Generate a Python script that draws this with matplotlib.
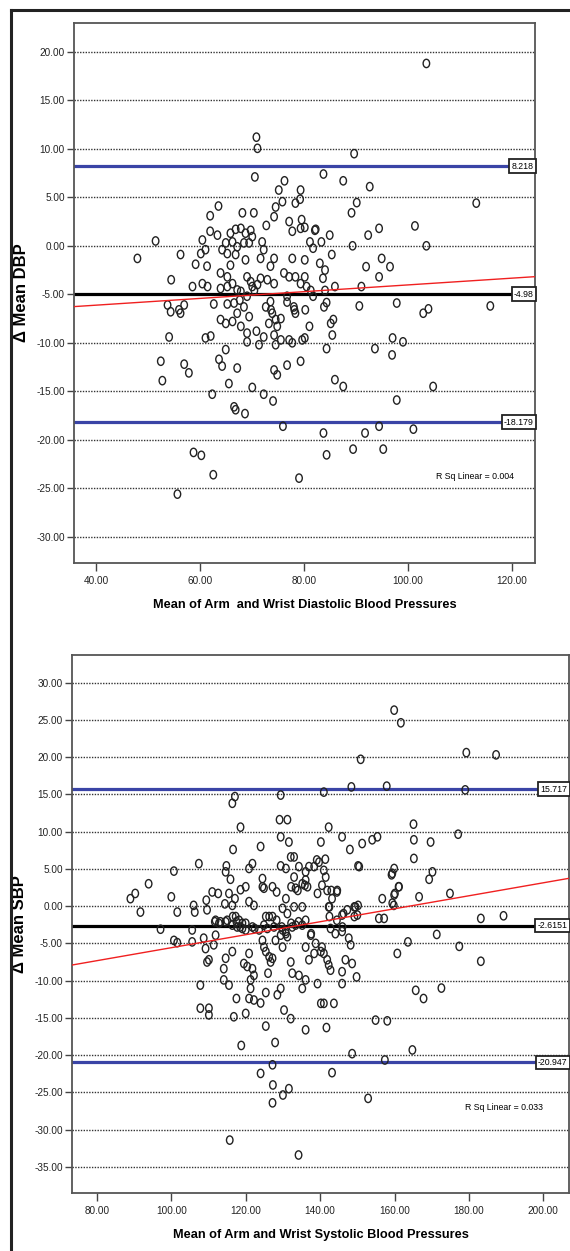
import numpy as np
import matplotlib
matplotlib.use("Agg")
import matplotlib.pyplot as plt
from matplotlib.path import Path
from matplotlib.lines import Line2D
from matplotlib import font_manager

names = {f.name for f in font_manager.fontManager.ttflist}
narrow = "Liberation Sans Narrow" if "Liberation Sans Narrow" in names else "Liberation Sans"
plt.rcParams["font.family"] = [narrow, "DejaVu Sans"]
plt.rcParams["axes.unicode_minus"] = False

# ---- data: diastolic (top panel) ----
dbp_points = [
    (103.5, 18.8), (70.8, 11.2), (71.0, 10.05), (89.6, 9.5), (70.5, 7.1), (83.7, 7.4),
    (76.2, 6.7), (87.5, 6.7), (92.6, 6.1), (75.1, 5.75), (79.3, 5.75), (75.8, 4.55),
    (79.2, 4.8), (90.1, 4.45), (113.1, 4.4), (63.5, 4.1), (74.5, 4.0), (78.3, 4.4),
    (89.1, 3.4), (61.9, 3.1), (68.1, 3.4), (70.3, 3.4), (74.2, 3.0), (72.7, 2.1),
    (77.1, 2.5), (79.5, 2.7), (82.2, 1.7), (77.7, 1.5), (79.3, 1.8), (80.1, 1.9),
    (94.4, 1.8), (101.3, 2.05), (61.9, 1.5), (63.3, 1.1), (60.4, 0.6), (65.8, 1.3),
    (66.8, 1.7), (67.8, 1.8), (68.7, 1.3), (69.7, 1.6), (70.0, 0.95), (69.4, 0.3),
    (64.9, 0.3), (66.2, 0.4), (67.1, -0.1), (68.4, 0.3), (71.9, 0.4), (72.2, -0.4),
    (64.2, -0.4), (65.2, -0.8), (51.4, 0.5), (47.9, -1.3), (56.2, -0.9), (59.1, -1.9),
    (60.1, -0.8), (61.0, -0.4), (61.3, -2.1), (74.2, -1.3), (73.5, -2.1), (71.6, -1.3),
    (77.7, -1.3), (66.8, -0.9), (65.8, -2.0), (68.7, -1.45), (54.4, -3.5), (63.9, -2.8),
    (65.2, -3.2), (66.2, -3.9), (69.0, -3.2), (71.6, -3.35), (72.9, -3.5), (74.2, -3.9),
    (76.1, -2.8), (77.1, -3.2), (78.3, -3.2), (79.3, -3.9), (58.5, -4.2), (60.4, -3.9),
    (61.4, -4.2), (63.9, -4.4), (65.2, -4.2), (67.1, -4.55), (67.8, -4.7), (70.0, -4.2),
    (71.0, -4.0), (84.9, 1.1), (83.3, 0.4), (81.7, -0.25), (81.1, 0.4), (92.3, 1.1),
    (89.3, 0.0), (103.5, 0.0), (85.3, -0.9), (80.1, -1.45), (83.0, -1.8), (84.0, -2.5),
    (83.6, -3.35), (91.9, -2.15), (94.9, -1.3), (96.5, -2.15), (94.4, -3.2), (80.1, -3.2),
    (80.45, -4.2), (85.9, -4.2), (91.0, -4.2), (82.05, 1.6),
    (67.6, -5.6), (69.0, -5.2), (69.7, -3.7), (70.4, -4.6), (73.6, -6.6), (76.7, -5.8),
    (78.1, -6.6), (80.2, -6.6), (81.25, -4.6), (84.0, -4.6),
    (53.7, -6.1), (54.3, -6.8), (55.9, -6.6), (56.9, -6.1), (56.2, -6.95), (54.0, -9.4),
    (52.4, -11.9), (52.7, -13.9), (56.9, -12.2), (57.8, -13.1), (61.0, -9.5), (62.0, -9.3),
    (62.6, -6.0), (65.2, -6.0), (66.5, -5.9), (67.1, -6.95), (68.4, -6.3), (69.4, -7.3),
    (63.9, -7.6), (64.9, -8.0), (66.2, -7.8), (67.8, -8.3), (69.0, -9.0), (69.0, -9.9),
    (64.9, -10.7), (63.6, -11.7), (64.2, -12.4), (67.1, -12.6), (65.5, -14.2), (70.0, -14.6),
    (62.3, -15.3), (66.5, -16.6), (66.8, -16.9), (68.6, -17.3), (72.2, -15.3), (74.0, -16.0),
    (70.8, -8.8), (72.2, -9.4), (71.3, -10.2), (72.6, -6.3), (73.5, -5.75), (73.85, -6.95),
    (74.5, -7.6), (74.8, -8.3), (75.5, -7.5), (73.2, -8.0), (74.2, -9.2), (74.5, -10.2),
    (75.5, -9.7), (77.1, -9.7), (77.7, -10.0), (76.7, -5.2), (78.0, -6.3), (78.3, -6.95),
    (79.6, -9.7), (79.3, -11.9), (76.7, -12.3), (74.2, -12.8), (74.8, -13.3), (75.9, -18.6),
    (58.7, -21.3), (60.2, -21.6), (62.5, -23.6), (79.0, -23.95), (55.6, -25.6),
    (81.7, -5.2), (83.8, -6.3), (84.3, -5.85), (90.6, -6.2), (97.8, -5.9), (102.9, -6.95),
    (103.9, -6.5), (115.8, -6.2), (81.0, -8.3), (80.1, -9.5), (85.6, -7.6), (85.1, -8.0),
    (85.4, -9.2), (84.3, -10.6), (93.6, -10.6), (97.0, -9.5), (99.0, -9.9), (96.9, -11.25),
    (85.9, -13.8), (87.5, -14.5), (97.8, -15.9), (104.8, -14.5), (83.7, -19.3), (91.7, -19.3),
    (94.4, -18.6), (101.0, -18.9), (84.3, -21.55), (89.4, -20.96), (95.2, -20.96),
]
dbp_lines = [8.218, -4.98, -18.179]
dbp_line_labels = ["8.218", "-4.98", "-18.179"]
dbp_fit = (-7.51, 0.0348)  # intercept, slope
dbp_xticks = [40, 60, 80, 100, 120]
dbp_yticks = [-30, -25, -20, -15, -10, -5, 0, 5, 10, 15, 20]

# ---- data: systolic (bottom panel) ----
sbp_points = [
    (117.1, 14.7), (116.4, 13.8), (129.4, 14.9), (118.6, 10.6), (129.1, 11.6), (131.2, 11.6),
    (129.4, 9.3), (131.6, 8.6), (116.6, 7.6), (124.0, 8.0), (140.2, 8.6), (107.4, 5.7),
    (100.7, 4.7), (93.9, 3.0), (121.8, 5.7), (120.9, 5.05), (114.8, 5.4), (114.6, 4.6),
    (115.9, 3.6), (124.5, 3.7), (127.2, 2.6), (124.5, 2.6), (129.4, 5.4), (130.8, 5.05),
    (132.1, 6.6), (133.0, 6.6), (134.3, 5.3), (136.1, 4.6), (137.0, 5.3), (138.4, 5.3),
    (139.7, 5.9), (136.1, 3.5), (136.6, 2.6), (133.4, 2.4), (135.2, 3.0), (133.0, 3.9),
    (139.3, 1.7), (89.0, 1.0), (90.3, 1.7), (91.7, -0.8), (100.0, 1.25), (101.6, -0.8),
    (106.0, 0.1), (106.3, -0.8), (109.4, 0.8), (109.6, -0.5), (111.0, 1.9), (112.6, 1.7),
    (115.5, 1.7), (117.1, 1.0), (116.4, 0.1), (118.6, 2.2), (120.0, 2.6), (120.9, 0.6),
    (122.2, 0.1), (114.4, 0.3), (125.4, -1.4), (127.2, -1.4), (130.8, 1.0), (129.9, -0.3),
    (131.2, -1.0), (133.0, -0.1), (135.2, -0.1), (136.1, -1.9), (111.9, -1.9), (113.2, -2.1),
    (115.0, -1.9), (117.3, -1.4), (118.2, -1.9), (119.1, -2.3),
    (159.9, 26.3), (161.7, 24.6), (150.9, 19.7), (179.3, 20.6), (187.3, 20.3), (141.0, 15.3),
    (148.4, 16.0), (157.9, 16.1), (179.0, 15.6), (142.3, 10.6), (145.9, 9.3), (148.0, 7.6),
    (151.3, 8.4), (154.0, 8.9), (155.4, 9.3), (165.1, 11.0), (165.2, 8.9), (169.7, 8.6),
    (177.1, 9.65), (165.2, 6.4), (141.4, 6.3), (141.0, 4.8), (140.5, 2.8), (141.9, 2.1),
    (144.6, 2.1), (143.2, 1.0), (150.2, 5.4), (159.9, 5.05), (159.4, 4.4), (170.2, 4.6),
    (169.3, 3.6), (161.2, 2.6), (159.9, 1.5), (159.4, 0.4), (156.7, 1.0), (166.6, 1.25),
    (174.9, 1.7), (142.3, -0.1), (147.3, -0.5), (149.5, -0.1), (150.0, -1.2), (145.9, -1.2),
    (155.8, -1.65), (157.2, -1.65), (183.2, -1.65), (189.3, -1.3),
    (124.9, 2.4), (128.3, 1.9), (132.2, 2.6), (134.0, 2.1), (135.9, 2.8), (139.1, 6.2),
    (141.5, 3.9), (143.0, 2.1), (144.5, 1.9), (150.5, 5.3), (146.3, -1.0), (149.2, -0.1),
    (150.2, 0.1), (149.2, -1.4), (142.5, -0.1), (142.5, -1.4), (144.5, -1.9), (146.0, -2.8),
    (159.2, 4.2), (160.1, 1.7), (161.1, 2.6), (159.8, 0.1),
    (111.7, -2.1), (116.5, -1.4), (117.5, -2.1), (118.5, -2.8), (120.0, -3.2), (122.4, -3.0),
    (124.9, -2.55), (126.3, -1.4), (128.3, -1.9), (129.7, -2.8), (130.7, -3.4), (131.2, -4.1),
    (132.2, -2.3), (134.2, -2.1), (135.2, -2.55), (137.6, -3.7),
    (97.1, -3.1), (100.7, -4.6), (101.6, -4.9), (105.6, -3.2), (105.6, -4.8), (108.7, -4.3),
    (109.2, -5.7), (111.4, -5.2), (110.1, -7.2), (109.6, -7.5), (107.8, -10.6), (107.8, -13.7),
    (110.1, -13.7), (110.1, -14.6), (114.1, -8.4), (114.6, -7.0), (114.1, -9.9), (115.5, -10.6),
    (116.4, -6.1), (111.9, -3.9), (117.5, -12.4), (116.8, -14.85), (120.0, -14.4), (118.8, -18.7),
    (119.5, -7.7), (120.4, -8.1), (120.9, -6.35), (121.8, -8.4), (122.2, -9.3), (121.3, -9.9),
    (121.3, -11.05), (120.9, -12.4), (122.2, -12.6), (124.0, -13.0), (125.4, -11.6), (125.4, -16.1),
    (124.5, -4.6), (124.9, -5.5), (125.4, -6.1), (126.3, -6.8), (127.2, -7.0), (126.7, -7.5),
    (126.0, -9.0), (128.0, -4.6), (129.4, -3.9), (129.9, -5.5), (128.5, -11.9), (129.4, -11.05),
    (130.3, -13.95), (132.1, -15.1), (127.9, -18.3), (127.2, -21.3), (124.0, -22.45), (127.3, -24.0),
    (130.0, -25.35), (131.6, -24.5), (127.2, -26.4), (115.7, -31.4), (134.2, -33.4), (132.1, -7.5),
    (132.5, -9.0), (134.3, -9.3), (136.1, -9.9), (135.2, -11.05), (136.1, -16.6), (139.3, -10.4),
    (140.2, -13.05), (136.1, -5.5), (137.0, -7.2), (137.5, -3.9), (138.8, -5.0), (140.2, -6.1),
    (138.4, -6.35), (129.9, -3.2), (130.8, -3.7), (132.5, -2.8), (133.4, -2.55), (112.8, -2.3),
    (114.6, -2.1), (116.4, -2.55), (117.7, -2.8), (119.1, -3.0), (120.0, -2.3), (121.8, -2.8),
    (123.6, -3.2), (125.8, -3.0), (127.6, -2.8),
    (142.8, -3.0), (144.1, -3.7), (145.9, -3.4), (147.7, -4.3), (148.2, -5.2), (140.5, -5.5),
    (141.0, -6.35), (141.9, -7.2), (142.3, -7.9), (142.8, -8.6), (146.8, -7.2), (148.6, -7.7),
    (145.9, -8.8), (145.9, -10.4), (149.8, -9.5), (141.0, -13.05), (143.7, -13.05), (141.7, -16.3),
    (154.9, -15.3), (158.05, -15.4), (148.6, -19.8), (157.4, -20.65), (164.8, -19.3), (143.2, -22.35),
    (152.9, -25.8), (160.75, -6.35), (163.6, -4.8), (171.35, -3.8), (177.4, -5.4), (183.2, -7.4),
    (165.7, -11.3), (167.8, -12.4), (172.6, -11.0),
]
sbp_lines = [15.717, -2.6151, -20.947]
sbp_line_labels = ["15.717", "-2.6151", "-20.947"]
sbp_fit = (-14.29, 0.0871)
sbp_xticks = [80, 100, 120, 140, 160, 180, 200]
sbp_yticks = [-35, -30, -25, -20, -15, -10, -5, 0, 5, 10, 15, 20, 25, 30]

W, H = 570, 1251
fig = plt.figure(figsize=(W / 100, H / 100), dpi=100)
fig.patch.set_facecolor("white")

circ = Path.unit_circle()
oval = Path(circ.vertices * [0.78, 1.0], circ.codes)


def panel(ax, points, lines, labels, fit, xlim, ylim, xticks, yticks,
          xlabel, ylabel, ylab_x, rsq, rsq_xy):
    x, y = np.array(points).T
    ax.set_xlim(*xlim)
    ax.set_ylim(*ylim)
    ax.set_xticks(xticks)
    ax.set_yticks(yticks)
    ax.set_xticklabels([f"{v:.2f}" for v in xticks], fontsize=7.2, color="#222")
    ax.set_yticklabels([f"{v:.2f}" for v in yticks], fontsize=7.2, color="#222")
    ax.tick_params(axis="y", length=5, width=1, pad=1.5, color="#444")
    ax.tick_params(axis="x", length=6, width=1, pad=3, color="#444")
    ax.yaxis.grid(True, linestyle=(0, (1, 1)), color="#333", lw=1.0, zorder=0)
    ax.set_axisbelow(True)
    for s in ax.spines.values():
        s.set_color("#555")
        s.set_linewidth(1.3)
    ax.scatter(x, y, s=36, marker=oval, facecolors="none", edgecolors="#222",
               linewidths=1.0, zorder=3)
    colors = ["#3a44a6", "black", "#3a44a6"]
    for v, c, lab in zip(lines, colors, labels):
        ax.axhline(v, color=c, lw=2.3, zorder=2)
        ax.text(0.997, v, lab, transform=ax.get_yaxis_transform(), ha="right", va="center",
                fontsize=6.3, zorder=5,
                bbox=dict(boxstyle="square,pad=0.25", fc="white", ec="#222", lw=1.3))
    xs = np.array(xlim)
    ax.plot(xs, fit[0] + fit[1] * xs, color="#f02020", lw=1.0, zorder=4)
    ax.text(rsq_xy[0], rsq_xy[1], rsq, fontsize=6.3, ha="center", va="center")
    ax.set_xlabel(xlabel, fontsize=9.2, fontweight="bold", labelpad=10)
    ax.set_ylabel(ylabel, fontsize=12, fontweight="bold")
    ax.yaxis.set_label_coords(ylab_x, 0.5)


ax1 = fig.add_axes([74 / W, 1 - 563 / H, (535 - 74) / W, (563 - 22.7) / H])
panel(ax1, dbp_points, dbp_lines, dbp_line_labels, dbp_fit, (35.7, 124.4), (-32.7, 23.0),
      dbp_xticks, dbp_yticks, "Mean of Arm  and Wrist Diastolic Blood Pressures",
      "\u0394 Mean DBP", -0.098, "R Sq Linear = 0.004", (112.8, -23.8))

ax2 = fig.add_axes([72 / W, 1 - 1193 / H, (569 - 72) / W, (1193 - 655) / H])
panel(ax2, sbp_points, sbp_lines, sbp_line_labels, sbp_fit, (73.3, 206.9), (-38.5, 33.7),
      sbp_xticks, sbp_yticks, "Mean of Arm and Wrist Systolic Blood Pressures",
      "\u0394 Mean SBP", -0.09, "R Sq Linear = 0.033", (189.4, -27.0))

# outer frame (left and top edges visible)
fig.add_artist(Line2D([11 / W, 11 / W], [0, 1 - 10 / H], transform=fig.transFigure,
                      color="#222", lw=2.2))
fig.add_artist(Line2D([11 / W, 1], [1 - 10 / H, 1 - 10 / H], transform=fig.transFigure,
                      color="#222", lw=2.2))

fig.savefig("out.png", dpi=100)
